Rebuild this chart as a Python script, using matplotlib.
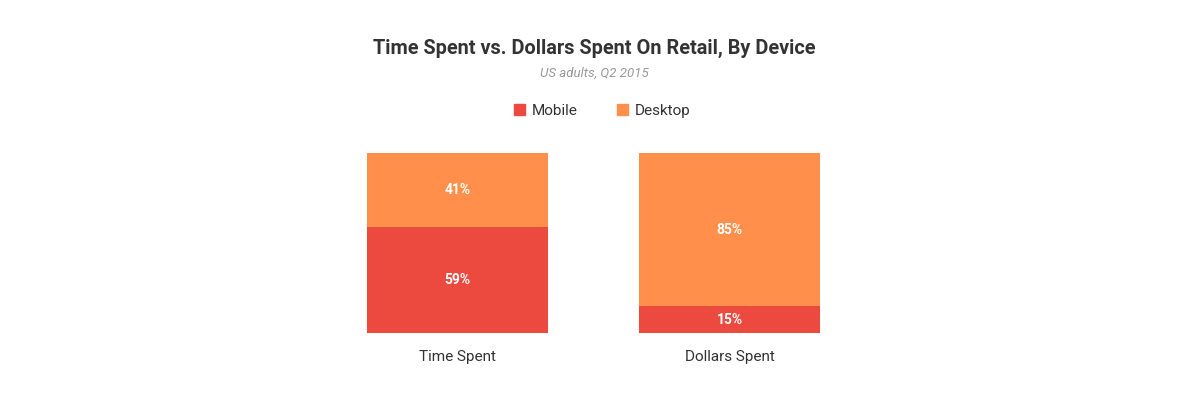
import matplotlib
matplotlib.use("Agg")
import matplotlib.pyplot as plt
from matplotlib.patches import Patch

categories = ["Time Spent", "Dollars Spent"]
mobile = [59, 15]
desktop = [41, 85]
series_names = ["Mobile", "Desktop"]

C_MOBILE = "#EC4A3E"
C_DESKTOP = "#FF8F4A"

plt.rcParams['font.family'] = ['Roboto', 'DejaVu Sans']

W, H = 1200, 399
fig = plt.figure(figsize=(W / 100, H / 100), dpi=100)
ax = fig.add_axes([367 / W, (H - 333) / H, (820 - 367) / W, (333 - 153) / H])

bw = 0.665
x = list(range(len(categories)))
ax.bar(x, mobile, width=bw, color=C_MOBILE, linewidth=0)
ax.bar(x, desktop, bottom=mobile, width=bw, color=C_DESKTOP, linewidth=0)

for i in x:
    ax.text(i, mobile[i] / 2, f"{mobile[i]}%", ha="center", va="center",
            color="white", fontsize=10, fontweight="bold")
    ax.text(i, mobile[i] + desktop[i] / 2, f"{desktop[i]}%", ha="center", va="center",
            color="white", fontsize=10, fontweight="bold")

ax.set_xlim(-bw / 2, 1 + bw / 2)
ax.set_ylim(0, 100)
ax.set_xticks(x)
ax.set_xticklabels(categories, fontsize=11, color="#333333")
ax.tick_params(axis="x", length=0, pad=12)
ax.set_yticks([])
for s in ax.spines.values():
    s.set_visible(False)

cx = 594 / W
fig.text(cx, 1 - 48 / H, "Time Spent vs. Dollars Spent On Retail, By Device",
         ha="center", va="center", fontsize=14.3, fontweight="bold", color="#333333")
fig.text(cx, 1 - 73 / H, "US adults, Q2 2015", ha="center", va="center",
         fontsize=9.5, style="italic", color="#999999")

handles = [Patch(color=C_MOBILE), Patch(color=C_DESKTOP)]
fig.legend(handles, series_names, loc="center", bbox_to_anchor=(602 / W, 1 - 111 / H),
           ncol=2, frameon=False, fontsize=11, handlelength=0.75, handleheight=0.75,
           handletextpad=0.4, columnspacing=2.6, labelcolor="#333333")

fig.savefig("out.png", dpi=100)
